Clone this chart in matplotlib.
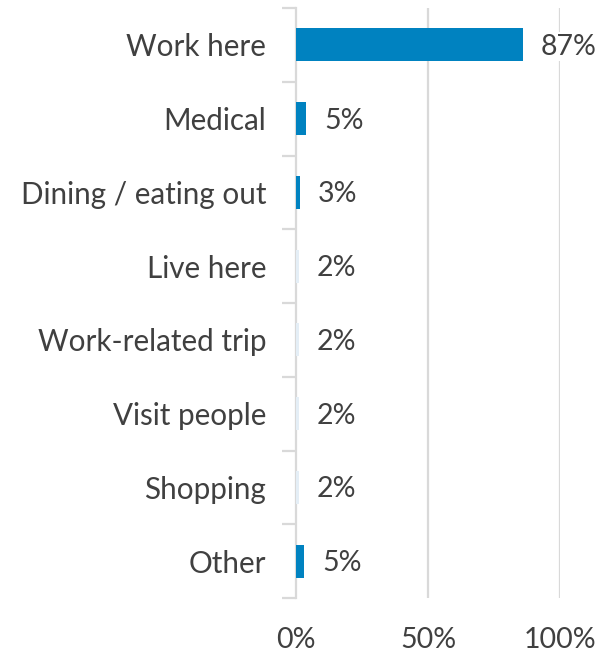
import matplotlib
matplotlib.use("Agg")
import matplotlib.pyplot as plt
import numpy as np

categories = ["Work here", "Medical", "Dining / eating out", "Live here",
              "Work-related trip", "Visit people", "Shopping", "Other"]
label_values = [87, 5, 3, 2, 2, 2, 2, 5]
bar_lengths = [86, 3.9, 1.6, 1.1, 1.1, 1.1, 1.1, 3.2]
bar_colors = ["#0082C0", "#0082C0", "#0082C0", "#E4EEF6",
              "#E4EEF6", "#E4EEF6", "#E4EEF6", "#0082C0"]
x_ticks = [0, 50, 100]
x_ticklabels = ["0%", "50%", "100%"]

plt.rcParams['font.family'] = ['Lato', 'DejaVu Sans']
text_color = "#404040"
grid_color = "#D9D9D9"

fig = plt.figure(figsize=(6.14, 6.56), dpi=100)
ax = fig.add_axes([296/614, 1 - 598/656, (560-296)/614, (598-8)/656])

n = len(categories)
y = np.arange(n)
ax.barh(y, bar_lengths, height=0.45, color=bar_colors, zorder=3)

ax.set_xlim(0, 100)
ax.set_ylim(n - 0.5, -0.5)

for xv in [50, 100]:
    ax.axvline(xv, color=grid_color, lw=1.6, zorder=1)

fs = 20.5
for yi, (bl, lv) in enumerate(zip(bar_lengths, label_values)):
    ax.annotate(f"{lv}%", xy=(bl, yi), xytext=(18, -2), textcoords="offset pixels",
                ha="left", va="center", fontsize=fs, color=text_color, zorder=4,
                bbox=dict(boxstyle="square,pad=0.05", fc="white", ec="none"))

# y-axis: categories at centers, ticks at boundaries
ax.set_yticks(y)
ax.set_yticklabels(categories, fontsize=21.3, color=text_color)
ax.tick_params(axis="y", which="major", length=0, pad=21.5)
ax.set_yticks(np.arange(-0.5, n, 1.0), minor=True)
ax.tick_params(axis="y", which="minor", length=10, width=1.6, color=grid_color)

ax.set_xticks(x_ticks)
ax.set_xticklabels(x_ticklabels, fontsize=fs, color=text_color)
ax.tick_params(axis="x", length=0, pad=21)

for s in ["top", "right", "bottom"]:
    ax.spines[s].set_visible(False)
ax.spines["left"].set_color(grid_color)
ax.spines["left"].set_linewidth(1.6)

fig.savefig("out.png", dpi=100, facecolor="white")
